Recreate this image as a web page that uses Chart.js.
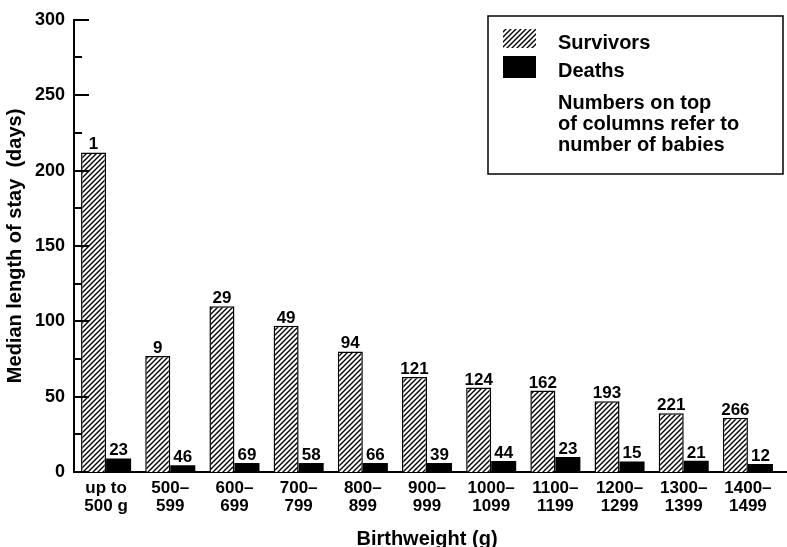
<!DOCTYPE html>
<html>
<head>
<meta charset="utf-8">
<script src="https://cdn.jsdelivr.net/npm/chart.js@4.4.1/dist/chart.umd.min.js"></script>
<style>
  html, body { margin: 0; padding: 0; background: #fff; }
  #wrap { width: 787px; height: 547px; }
</style>
</head>
<body>
<div id="wrap"><canvas id="chart" width="787" height="547"></canvas></div>
<script>
// birthweight bands (two-line tick labels)
const categories = [
  ['up to', '500 g'], ['500–', '599'], ['600–', '699'], ['700–', '799'],
  ['800–', '899'], ['900–', '999'], ['1000–', '1099'], ['1100–', '1199'],
  ['1200–', '1299'], ['1300–', '1399'], ['1400–', '1499']
];
// median length of stay (days)
const survivorDays = [212, 77, 110, 97, 80, 63, 56, 54, 47, 39, 36];
const deathDays = [9, 4.5, 6, 6, 6, 6, 7.3, 10, 7, 7.5, 5.3];
// numbers of babies printed on top of the columns
const survivorBabies = [1, 9, 29, 49, 94, 121, 124, 162, 193, 221, 266];
const deathBabies = [23, 46, 69, 58, 66, 39, 44, 23, 15, 21, 12];
// y axis
const yMax = 300;
const yStep = 25;
const yLabelStep = 50;
// legend text
const legendSeries = ['Survivors', 'Deaths'];
const legendNote = ['Numbers on top', 'of columns refer to', 'number of babies'];

const FONT = '"Liberation Sans", Arial, Helvetica, sans-serif';

function makeHatch() {
  const s = 5;
  const c = document.createElement('canvas');
  c.width = s; c.height = s;
  const g = c.getContext('2d');
  g.fillStyle = '#fff';
  g.fillRect(0, 0, s, s);
  g.strokeStyle = '#000';
  g.lineWidth = 1.4;
  g.beginPath();
  g.moveTo(-1, s + 1); g.lineTo(s + 1, -1);
  g.moveTo(-1, 1); g.lineTo(1, -1);
  g.moveTo(s - 1, s + 1); g.lineTo(s + 1, s - 1);
  g.stroke();
  return g.createPattern(c, 'repeat');
}
const hatch = makeHatch();

// numbers above the columns
const barLabels = {
  id: 'barLabels',
  afterDatasetsDraw(chart) {
    const ctx = chart.ctx;
    const counts = [survivorBabies, deathBabies];
    ctx.save();
    ctx.font = 'bold 17px ' + FONT;
    ctx.fillStyle = '#000';
    ctx.textAlign = 'center';
    ctx.textBaseline = 'alphabetic';
    chart.data.datasets.forEach((ds, i) => {
      chart.getDatasetMeta(i).data.forEach((bar, j) => {
        ctx.fillText(String(counts[i][j]), bar.x, bar.y - 3);
      });
    });
    ctx.restore();
  }
};

// tick marks pointing into the plot, and baseline running to the edge
const axisMarks = {
  id: 'axisMarks',
  afterDraw(chart) {
    const ctx = chart.ctx;
    const y = chart.scales.y;
    const left = chart.chartArea.left;
    ctx.save();
    ctx.strokeStyle = '#000';
    ctx.lineWidth = 2;
    y.ticks.forEach(t => {
      const py = Math.round(y.getPixelForValue(t.value));
      const len = t.value % yLabelStep === 0 ? 15 : 8;
      ctx.beginPath();
      ctx.moveTo(left, py);
      ctx.lineTo(left + len, py);
      ctx.stroke();
    });
    const py0 = y.getPixelForValue(0);
    ctx.beginPath();
    ctx.moveTo(chart.chartArea.right - 2, py0);
    ctx.lineTo(chart.width, py0);
    ctx.stroke();
    ctx.restore();
  }
};

// boxed key in the upper right
const keyBox = {
  id: 'keyBox',
  afterDraw(chart) {
    const ctx = chart.ctx;
    ctx.save();
    ctx.strokeStyle = '#000';
    ctx.lineWidth = 1.5;
    ctx.strokeRect(488, 16, 295, 158);
    ctx.fillStyle = hatch;
    ctx.fillRect(503, 29, 33, 19);
    ctx.fillStyle = '#000';
    ctx.fillRect(503, 56, 33, 22);
    ctx.font = 'bold 20px ' + FONT;
    ctx.textAlign = 'left';
    ctx.textBaseline = 'middle';
    ctx.fillText(legendSeries[0], 558, 43);
    ctx.fillText(legendSeries[1], 558, 71);
    legendNote.forEach((line, i) => ctx.fillText(line, 558, 103 + i * 21));
    ctx.restore();
  }
};

new Chart(document.getElementById('chart'), {
  type: 'bar',
  data: {
    labels: categories,
    datasets: [
      {
        label: legendSeries[0],
        data: survivorDays,
        backgroundColor: hatch,
        borderColor: '#000',
        borderWidth: 1.5,
        borderSkipped: 'bottom',
        barPercentage: 1,
        categoryPercentage: 0.78
      },
      {
        label: legendSeries[1],
        data: deathDays,
        backgroundColor: '#000',
        borderColor: '#000',
        borderWidth: 0,
        barPercentage: 1,
        categoryPercentage: 0.78
      }
    ]
  },
  options: {
    responsive: false,
    animation: false,
    devicePixelRatio: 1,
    layout: { padding: { left: 0, right: 7, top: 18, bottom: 0 } },
    plugins: {
      legend: { display: false },
      tooltip: { enabled: false }
    },
    scales: {
      x: {
        grid: { display: false, drawTicks: false },
        border: { display: true, color: '#000', width: 2 },
        ticks: {
          color: '#000',
          font: { family: FONT, size: 17, weight: 'bold', lineHeight: 1.06 },
          padding: 7,
          autoSkip: false,
          maxRotation: 0
        },
        title: {
          display: true,
          text: 'Birthweight (g)',
          color: '#000',
          font: { family: FONT, size: 20, weight: 'bold', lineHeight: 1.2 },
          padding: { top: 0, bottom: -4 }
        },
        afterFit(scale) { scale.height = 75; }
      },
      y: {
        min: 0,
        max: yMax,
        grid: { display: false, drawTicks: false },
        border: { display: true, color: '#000', width: 2 },
        ticks: {
          stepSize: yStep,
          color: '#000',
          font: { family: FONT, size: 18, weight: 'bold' },
          padding: 9,
          callback: v => (v % yLabelStep === 0 ? v : '')
        },
        title: {
          display: true,
          text: 'Median length of stay  (days)',
          color: '#000',
          font: { family: FONT, size: 20, weight: 'bold', lineHeight: 1.2 },
          padding: { top: 3, bottom: 0 }
        },
        afterFit(scale) { scale.width = 74; }
      }
    }
  },
  plugins: [barLabels, axisMarks, keyBox]
});
</script>
</body>
</html>
